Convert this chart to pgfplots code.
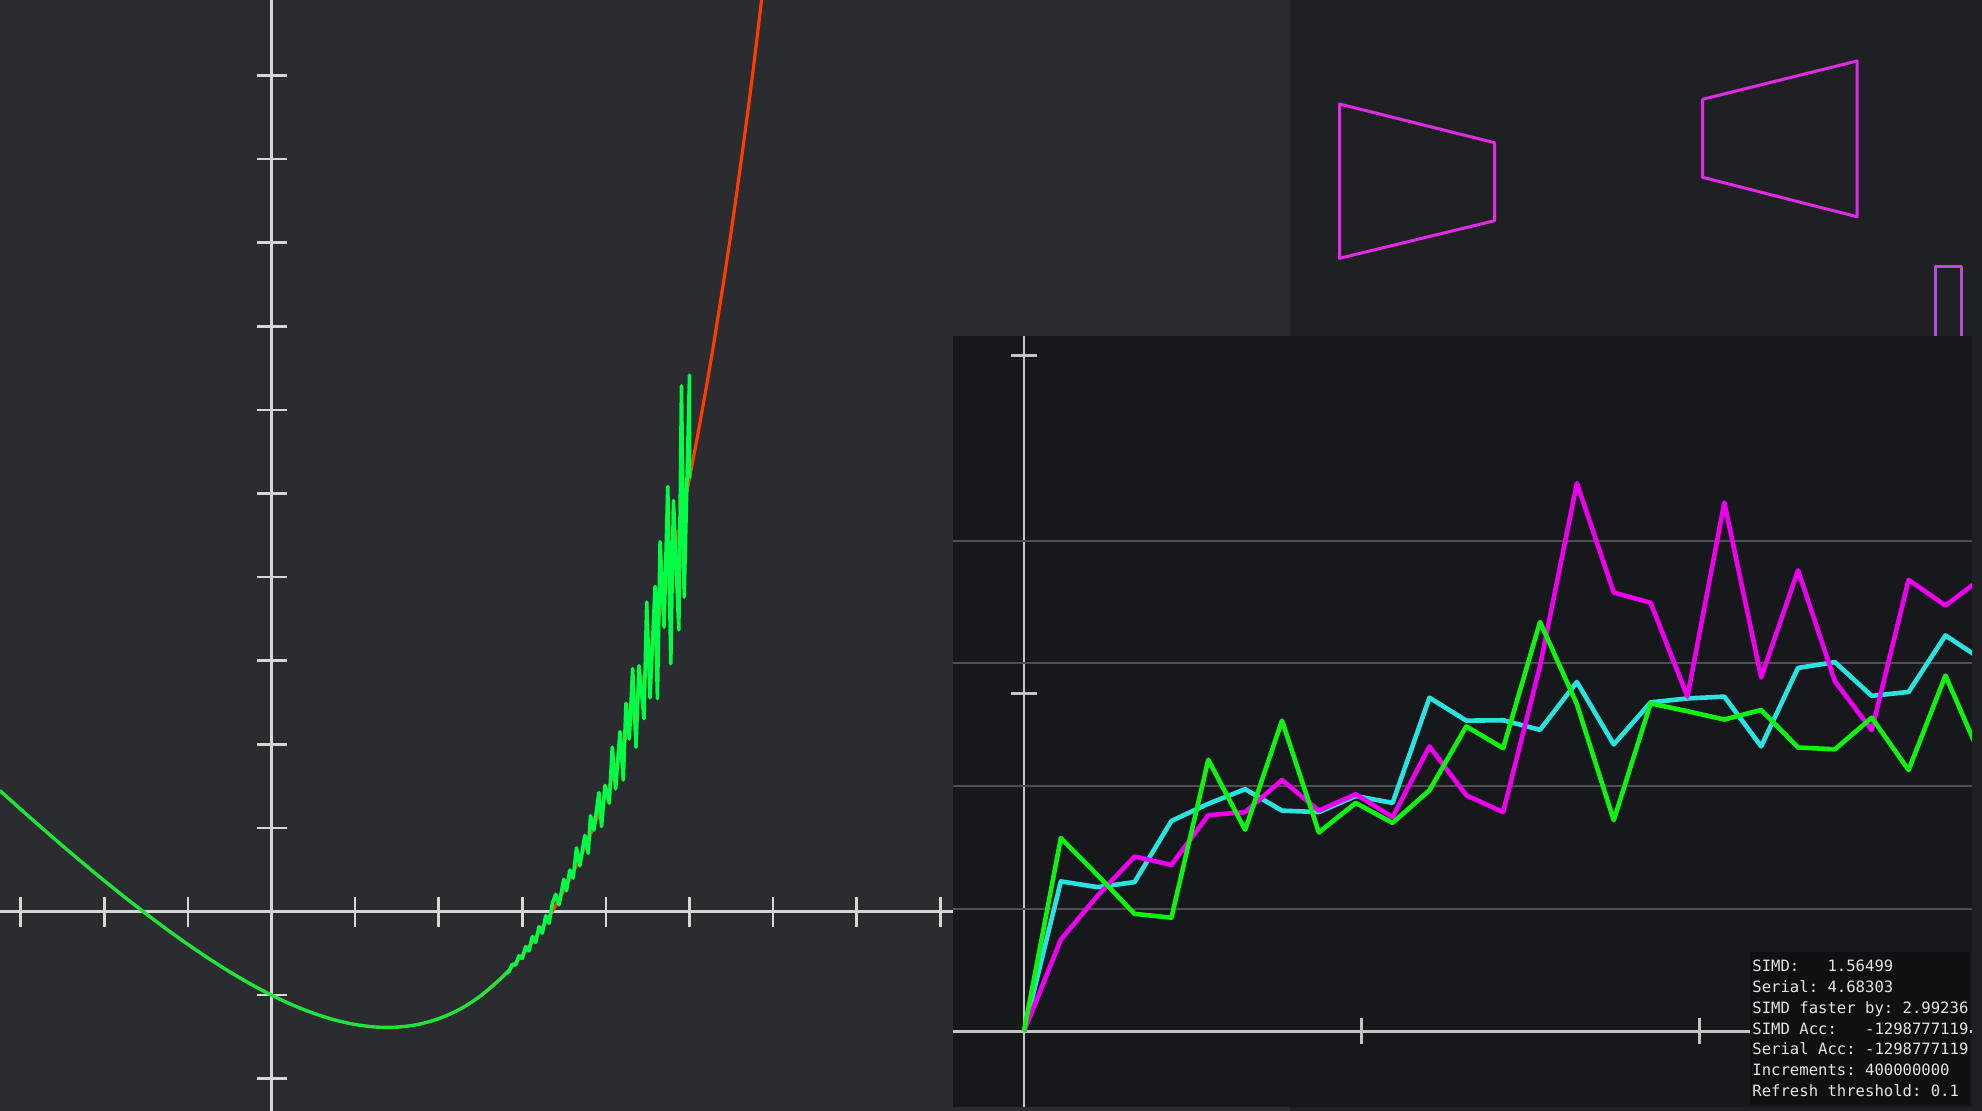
\documentclass[border=0pt]{standalone}
\usepackage{fontspec}
\usepackage{pgfplots}
\usepackage{pgfplotstable}
\pgfplotsset{compat=1.18}
\newfontfamily\monof{DejaVu Sans Mono}
\definecolor{bgL}{HTML}{2B2C30}
\definecolor{bgR}{HTML}{1F2024}
\definecolor{bgI}{HTML}{17181B}
\definecolor{bgT}{HTML}{0F1012}
\definecolor{axL}{HTML}{D6D6D6}
\definecolor{axI}{HTML}{C4C4C4}
\definecolor{gridc}{HTML}{4E4F53}
\definecolor{curveG}{HTML}{22E33A}
\definecolor{noiseG}{HTML}{00FF44}
\definecolor{curveR}{HTML}{FF3C00}
\definecolor{magL}{HTML}{EE00EE}
\definecolor{cyaL}{HTML}{28E4E0}
\definecolor{greL}{HTML}{10F210}
\definecolor{trap}{HTML}{E02AE4}
\definecolor{trapB}{HTML}{B64EDC}
\definecolor{txt}{HTML}{E4E4E4}

\pgfplotstableread{
x y
-3.25 1.4469
-3.00 1.2231
-2.75 1.0028
-2.50 0.7865
-2.25 0.5747
-2.00 0.3679
-1.75 0.1669
-1.50 -0.0276
-1.25 -0.2147
-1.00 -0.3935
-0.75 -0.5627
-0.50 -0.7212
-0.25 -0.8675
0.00 -1.0000
0.25 -1.1169
0.50 -1.2160
0.75 -1.2950
1.00 -1.3513
1.25 -1.3818
1.50 -1.3830
1.75 -1.3511
2.00 -1.2817
2.25 -1.1698
2.50 -1.0097
2.75 -0.7949
2.80 -0.7420
}\smoothG

\pgfplotstableread{
x y
2.80 -0.742
2.84 -0.72
2.88 -0.63
2.92 -0.64
2.96 -0.53
3.00 -0.56
3.04 -0.42
3.08 -0.47
3.12 -0.30
3.16 -0.37
3.20 -0.18
3.24 -0.26
3.28 -0.05
3.32 -0.14
3.36 0.10
3.400 0.205
3.440 0.080
3.496 0.385
3.528 0.248
3.568 0.496
3.608 0.400
3.648 0.761
3.688 0.547
3.748 0.910
3.788 0.697
3.816 1.145
3.856 0.974
3.916 1.423
3.948 1.017
3.988 1.509
4.040 1.295
4.076 1.966
4.116 1.466
4.168 2.150
4.208 1.573
4.240 2.491
4.280 2.064
4.320 2.906
4.360 1.966
4.396 2.940
4.456 2.308
4.488 3.701
4.528 2.556
4.588 3.889
4.616 2.547
4.648 4.423
4.696 3.402
4.740 5.085
4.776 2.962
4.808 4.915
4.872 3.368
4.904 6.286
4.936 3.761
5.000 6.415
5.000 5.182
}\noiseG

\pgfplotstableread{
x y
2.50 -1.0097
2.75 -0.7949
3.00 -0.5183
3.25 -0.1716
3.50 0.2546
3.75 0.7708
4.00 1.3891
4.25 2.1229
4.50 2.9877
4.75 4.0010
5.00 5.1825
5.25 6.5546
5.50 8.1426
5.75 9.9754
6.00 12.0855
}\redC

\pgfplotstableread{
i m c g
0 0 0 0
1 0.749 1.223 1.576
2 1.108 1.176 1.273
3 1.426 1.217 0.958
4 1.357 1.716 0.927
5 1.763 1.856 2.215
6 1.788 1.975 1.644
7 2.050 1.800 2.534
8 1.800 1.788 1.622
9 1.934 1.919 1.863
10 1.747 1.863 1.700
11 2.324 2.721 1.966
12 1.925 2.534 2.487
13 1.788 2.537 2.309
14 2.980 2.459 3.339
15 4.471 2.849 2.668
16 3.579 2.340 1.722
17 3.495 2.683 2.674
18 2.730 2.715 2.611
19 4.312 2.730 2.543
20 2.886 2.324 2.621
21 3.760 2.964 2.315
22 2.855 3.011 2.300
23 2.456 2.736 2.558
24 3.682 2.768 2.131
25 3.473 3.229 2.902
26 3.700 3.030 2.210
}\inset

\begin{document}
\begin{tikzpicture}
\useasboundingbox (0pt,0pt) rectangle (991pt,-555.5pt);
\clip (0pt,0pt) rectangle (991pt,-555.5pt);
% panel backgrounds
\fill[bgL] (0pt,0pt) rectangle (645pt,-555.5pt);
\fill[bgR] (645pt,0pt) rectangle (991pt,-555.5pt);

% left function plot
\begin{axis}[
  at={(0pt,0pt)}, anchor=north west,
  scale only axis, width=476.5pt, height=555.5pt,
  xmin=-3.248, xmax=8.152, ymin=-2.386, ymax=10.903,
  axis lines=middle,
  axis line style={draw=axL, line width=1.25pt, -},
  every inner x axis line/.append style={-},
  every inner y axis line/.append style={-},
  xtick={-3,-2,...,8}, ytick={-2,-1,...,10},
  xticklabels={}, yticklabels={},
  major tick length=15pt, tick align=center,
  tick style={draw=axL, line width=1.25pt},
  clip=true,
]
\addplot[draw=curveR, line width=1.6pt, smooth, mark=none] table[x=x,y=y] {\redC};
\addplot[draw=curveG, line width=1.7pt, smooth, mark=none] table[x=x,y=y] {\smoothG};
\addplot[draw=noiseG, line width=1.8pt, mark=none, line join=round] table[x=x,y=y] {\noiseG};
\end{axis}

% top-right shapes
\begin{axis}[
  at={(645pt,0pt)}, anchor=north west,
  scale only axis, width=346pt, height=168pt,
  xmin=1290, xmax=1982, ymin=0, ymax=336, y dir=reverse,
  hide axis, clip=true,
]
\addplot[draw=trap, line width=1.5pt, line join=round, mark=none] coordinates {(1339.5,104) (1494.5,142.7) (1494.5,220.7) (1339.5,258.3) (1339.5,104) (1494.5,142.7)};
\addplot[draw=trap, line width=1.5pt, line join=round, mark=none] coordinates {(1702.5,99.3) (1857,61) (1857,216.7) (1702.5,177.3) (1702.5,99.3) (1857,61)};
\addplot[draw=trapB, line width=1.5pt, line join=round, mark=none] coordinates {(1935.3,345) (1935.3,266.7) (1961.7,266.7) (1961.7,345)};
\end{axis}

% inset panel
\fill[bgI] (476.5pt,-168pt) rectangle (986pt,-553.5pt);
\begin{axis}[
  at={(476.5pt,-168pt)}, anchor=north west,
  scale only axis, width=509.5pt, height=385.5pt,
  xmin=-1.926, xmax=25.72, ymin=-0.617, ymax=5.671,
  axis lines=middle,
  axis line style={draw=axI, line width=1.3pt, -},
  every inner x axis line/.append style={-},
  every inner y axis line/.append style={-},
  xtick={0,9.16,18.32}, ytick={0,2.757,5.514},
  xticklabels={}, yticklabels={},
  major tick length=13pt, tick align=center,
  tick style={draw=axI, line width=1.3pt},
  extra y ticks={1,2,3,4},
  extra y tick labels={},
  extra y tick style={grid=major, major tick length=0pt},
  grid style={draw=gridc, line width=1pt},
  clip=true,
]
\addplot[draw=cyaL, line width=2.3pt, line join=round, mark=none] table[x=i,y=c] {\inset};
\addplot[draw=magL, line width=2.3pt, line join=round, mark=none] table[x=i,y=m] {\inset};
\addplot[draw=greL, line width=2.3pt, line join=round, mark=none] table[x=i,y=g] {\inset};
\end{axis}

% stats box
\fill[bgT] (875pt,-476pt) rectangle (985pt,-552.5pt);
\begin{scope}
\clip (875pt,-476pt) rectangle (985pt,-552.5pt);
\tikzset{st/.style={anchor=base west, inner sep=0pt, text=txt, font=\monof\fontsize{7.8pt}{9pt}\selectfont}}
\node[st] at (876pt,-485.85pt) {SIMD:\ \ \ 1.56499};
\node[st] at (876pt,-496.25pt) {Serial:\ 4.68303};
\node[st] at (876pt,-506.65pt) {SIMD\ faster\ by:\ 2.99236};
\node[st] at (876pt,-517.05pt) {SIMD\ Acc:\ \ \ -1298777119.};
\node[st] at (876pt,-527.45pt) {Serial\ Acc:\ -1298777119};
\node[st] at (876pt,-537.85pt) {Increments:\ 400000000};
\node[st] at (876pt,-548.25pt) {Refresh\ threshold:\ 0.1};
\end{scope}
\end{tikzpicture}
\end{document}
